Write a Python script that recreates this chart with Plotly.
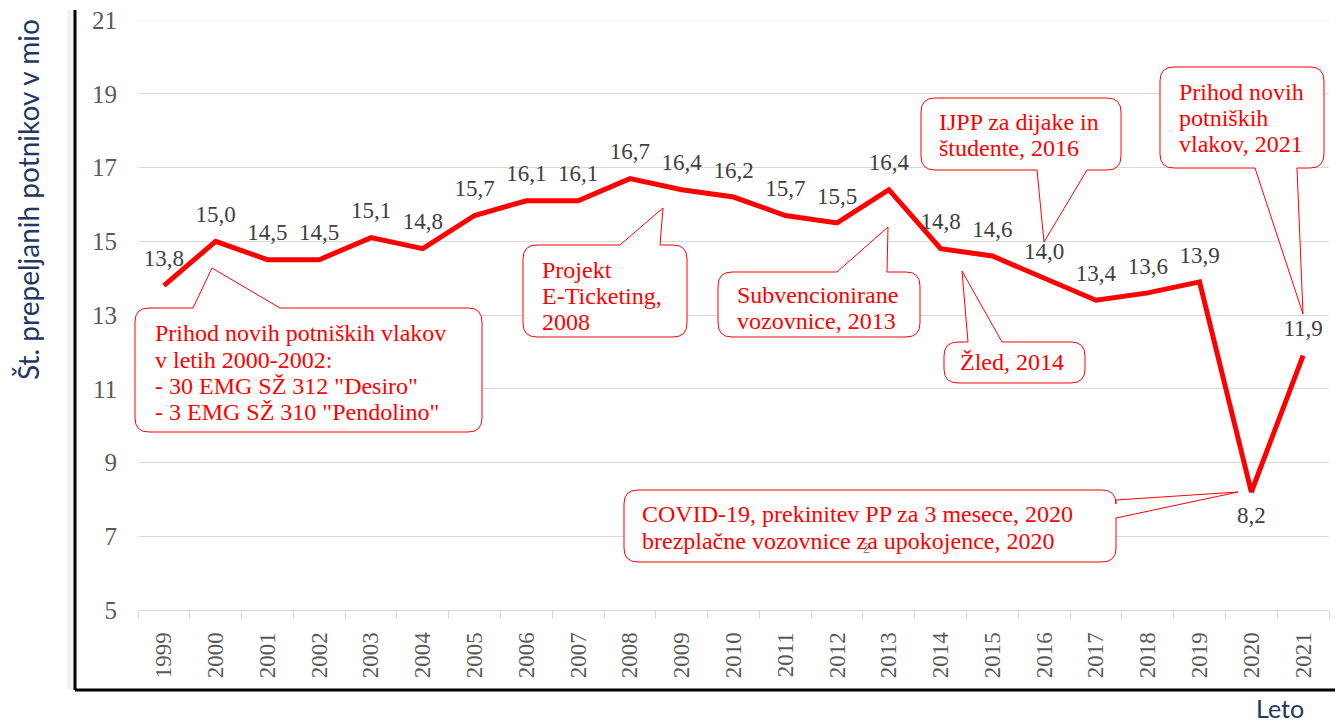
import plotly.graph_objects as go

years = list(range(1999, 2022))
passengers = [13.8, 15.0, 14.5, 14.5, 15.1, 14.8, 15.7, 16.1, 16.1, 16.7, 16.4, 16.2,
              15.7, 15.5, 16.4, 14.8, 14.6, 14.0, 13.4, 13.6, 13.9, 8.2, 11.9]
label_pos = ["top center"] * 21 + ["bottom center", "top center"]
y_ticks = [5, 7, 9, 11, 13, 15, 17, 19, 21]
y_title = "Št. prepeljanih potnikov v mio"
x_title = "Leto"

OFF = 8  # page body margin in the browser
W, H = 1343 - OFF, 725 - OFF
L, R, T, B = 138, 1329, 20, 610  # plot area in screenshot pixels

def px(x):
    return (x - L) / (R - L)

def py(y):
    return (B - y) / (B - T)

def P(x, y):
    return f"{px(x):.5f},{py(y):.5f}"

def callout_path(x0, y0, x1, y1, r, side, b1, b2, tip):
    tx, ty = tip
    s = f"M {P(x0 + r, y0)} "
    if side == "top":
        s += f"L {P(b1, y0)} L {P(tx, ty)} L {P(b2, y0)} "
    s += f"L {P(x1 - r, y0)} Q {P(x1, y0)} {P(x1, y0 + r)} "
    if side == "right":
        s += f"L {P(x1, b1)} L {P(tx, ty)} L {P(x1, b2)} "
    s += f"L {P(x1, y1 - r)} Q {P(x1, y1)} {P(x1 - r, y1)} "
    if side == "bottom":
        s += f"L {P(b2, y1)} L {P(tx, ty)} L {P(b1, y1)} "
    s += f"L {P(x0 + r, y1)} Q {P(x0, y1)} {P(x0, y1 - r)} "
    s += f"L {P(x0, y0 + r)} Q {P(x0, y0)} {P(x0 + r, y0)} Z"
    return s

callouts = [
    dict(box=(135, 308, 482, 432), side="top", base=(193, 280), tip=(212, 268),
         lines=["Prihod novih potniških vlakov", "v letih 2000-2002:",
                '- 30 EMG SŽ 312 "Desiro"', '- 3 EMG SŽ 310 "Pendolino"'],
         tx=153, ty=[333, 359.5, 386, 412]),
    dict(box=(523, 245, 687, 337), side="top", base=(620, 660), tip=(663, 208),
         lines=["Projekt", "E-Ticketing,", "2008"], tx=540, ty=[270, 296, 322]),
    dict(box=(718, 272, 920, 337), side="top", base=(837, 887), tip=(888, 227),
         lines=["Subvencionirane", "vozovnice, 2013"], tx=735, ty=[295, 321]),
    dict(box=(944, 342, 1085, 383), side="top", base=(968, 1002), tip=(962, 271),
         lines=["Žled, 2014"], tx=958, ty=[362]),
    dict(box=(921, 98, 1121, 170), side="bottom", base=(1037, 1087), tip=(1044, 242),
         lines=["IJPP za dijake in", "študente, 2016"], tx=937, ty=[122, 148]),
    dict(box=(1160, 67, 1324, 168), side="bottom", base=(1255, 1297), tip=(1303, 314),
         lines=["Prihod novih", "potniških", "vlakov, 2021"], tx=1177, ty=[92, 118, 144]),
    dict(box=(624, 490, 1116, 562), side="right", base=(500, 518), tip=(1238, 492),
         lines=["COVID-19, prekinitev PP za 3 mesece, 2020",
                "brezplačne vozovnice za upokojence, 2020"], tx=640, ty=[514, 541]),
]

fig = go.Figure()
fig.add_trace(go.Scatter(
    x=years, y=passengers, mode="lines+markers+text",
    line=dict(color="#ff0000", width=5),
    marker=dict(size=20, color="rgba(0,0,0,0)", line=dict(width=0)),
    text=[f"{v:.1f}".replace(".", ",") for v in passengers],
    textposition=label_pos,
    textfont=dict(family="Liberation Serif", size=23, color="#404040"),
    hoverinfo="skip", showlegend=False, cliponaxis=False,
))

shapes = []
annotations = []
# top gridline (at the range edge)
shapes.append(dict(type="line", xref="paper", yref="y", x0=0, x1=1, y0=y_ticks[-1], y1=y_ticks[-1],
                   line=dict(color="#e3e3e3", width=1), layer="below"))
# left light strip and black frame
shapes.append(dict(type="rect", xref="paper", yref="paper", x0=px(67), x1=px(74), y0=py(690), y1=py(10),
                   fillcolor="#f3f3f3", line=dict(width=0), layer="below"))
shapes.append(dict(type="line", xref="paper", yref="paper", x0=px(75), x1=px(75), y0=py(690), y1=py(10),
                   line=dict(color="black", width=3)))
shapes.append(dict(type="line", xref="paper", yref="paper", x0=px(75), x1=px(1345), y0=py(690), y1=py(690),
                   line=dict(color="black", width=3)))

for c in callouts:
    x0, y0, x1, y1 = c["box"]
    path = callout_path(x0, y0, x1, y1, 14, c["side"], c["base"][0], c["base"][1], c["tip"])
    shapes.append(dict(type="path", xref="paper", yref="paper", path=path,
                       fillcolor="white", line=dict(color="#ff0000", width=1), layer="above"))
    for line, ty in zip(c["lines"], c["ty"]):
        annotations.append(dict(xref="paper", yref="paper", x=px(c["tx"]), y=py(ty),
                                xanchor="left", yanchor="middle", showarrow=False, text=line,
                                font=dict(family="Liberation Serif", size=24, color="#ff0000")))

# stray artifact character seen in the source image
annotations.append(dict(xref="paper", yref="paper", x=px(866), y=py(548), xanchor="center", yanchor="middle",
                        showarrow=False, text="2",
                        font=dict(family="Liberation Serif", size=14, color="#808080")))

annotations.append(dict(xref="paper", yref="paper", x=px(28), y=py(200), xanchor="center", yanchor="middle",
                        showarrow=False, text=y_title, textangle=-90,
                        font=dict(family="Lato", size=28, color="#1f3864")))
annotations.append(dict(xref="paper", yref="paper", x=px(1280), y=py(708), xanchor="center", yanchor="middle",
                        showarrow=False, text=x_title,
                        font=dict(family="Lato", size=25, color="#1f3864")))

fig.update_layout(
    width=W, height=H,
    margin=dict(l=L - OFF, r=W - (R - OFF), t=T - OFF, b=H - (B - OFF), pad=0, autoexpand=False),
    paper_bgcolor="white", plot_bgcolor="white",
    shapes=shapes, annotations=annotations,
    xaxis=dict(range=[1998.5, 2021.5], tickmode="array", tickvals=years,
               ticktext=[str(y) for y in years], tickangle=-90,
               tickfont=dict(family="Liberation Serif", size=23, color="#595959"),
               showgrid=False, showline=True, linecolor="#d9d9d9", linewidth=1,
               ticks="", ticklabelstandoff=12, zeroline=False, automargin=False,
               minor=dict(tickmode="array", tickvals=[y - 0.5 for y in years] + [2021.5],
                          ticks="outside", ticklen=8, tickcolor="#d9d9d9", tickwidth=1, showgrid=False)),
    yaxis=dict(range=[5, 21.002], tickmode="array", tickvals=y_ticks,
               tickfont=dict(family="Liberation Serif", size=25, color="#595959"),
               showgrid=True, gridcolor="#d9d9d9", gridwidth=1, zeroline=False,
               showline=False, ticks="", ticklabelstandoff=20, automargin=False,
               ticklabeloverflow="allow"),
)

fig.write_html("out.html")
